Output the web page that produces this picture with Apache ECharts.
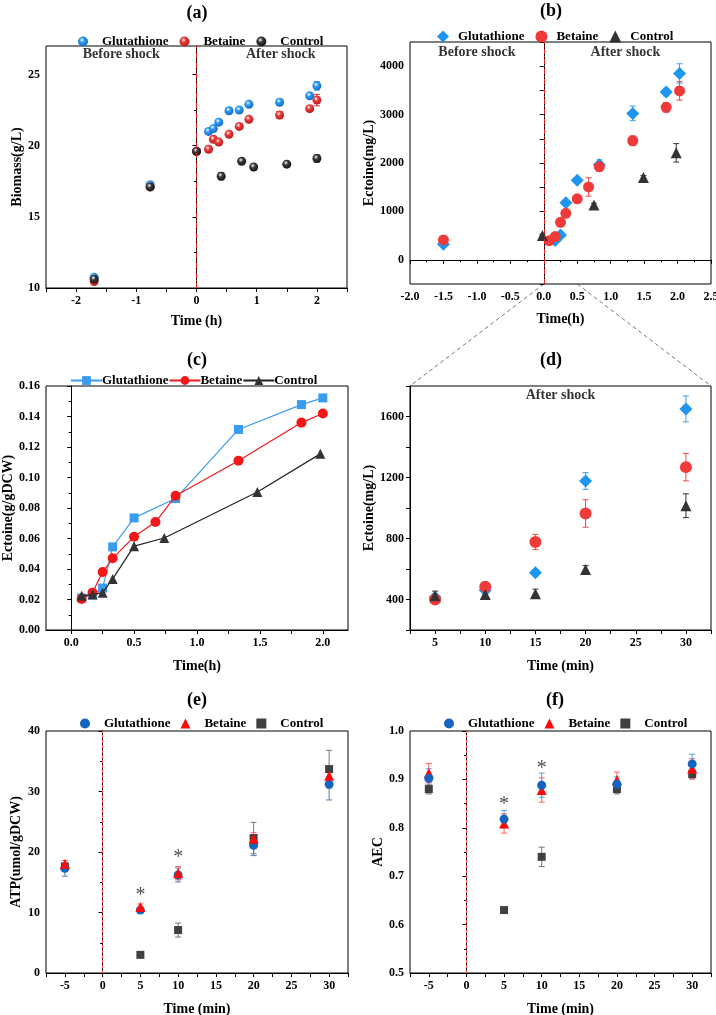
<!DOCTYPE html>
<html>
<head>
<meta charset="utf-8">
<script src="https://cdn.jsdelivr.net/npm/echarts@6/dist/echarts.min.js"></script>
<style>
  html, body { margin: 0; padding: 0; background: #fff; }
  #chart { width: 716px; height: 1015px; }
</style>
</head>
<body>
<div id="chart"></div>
<script>
// (a) biomass, g/L
const aTime = [-1.7, -0.77, 0, 0.2, 0.28, 0.37, 0.54, 0.71, 0.87, 1.38, 1.88, 2.0];
const aGlut = [10.75, 17.25, 19.6, 21.0, 21.2, 21.65, 22.45, 22.5, 22.9, 23.05, 23.5, 24.2];
const aGlutErr = [0.15, 0.15, 0.1, 0.1, 0.15, 0.15, 0.15, 0.15, 0.12, 0.2, 0.2, 0.3];
const aBeta = [10.45, 17.1, 19.6, 19.75, 20.45, 20.25, 20.8, 21.35, 21.85, 22.15, 22.6, 23.2];
const aBetaErr = [0.1, 0.1, 0.1, 0.2, 0.15, 0.15, 0.15, 0.2, 0.15, 0.25, 0.2, 0.4];
const aTimeC = [-1.7, -0.77, 0, 0.41, 0.75, 0.95, 1.5, 2.0];
const aCtrl = [10.62, 17.1, 19.6, 17.85, 18.9, 18.5, 18.7, 19.1];
const aCtrlErr = [0.1, 0.15, 0.1, 0.25, 0.1, 0.1, 0.1, 0.25];
const aXLabels = [-2, -1, 0, 1, 2];
const aXTicks = [-2.5, -2, -1.5, -1, -0.5, 0, 0.5, 1, 1.5, 2, 2.5];
const aYLabels = [10, 15, 20, 25];

// (b) ectoine, mg/L
const bTimeG = [-1.5, 0.17, 0.25, 0.33, 0.5, 0.83, 1.33, 1.83, 2.03];
const bGlut = [320, 400, 510, 1180, 1645, 1965, 3025, 3465, 3850];
const bGlutErr = [30, 30, 40, 50, 50, 100, 150, 80, 200];
const bTimeB = [-1.5, 0.08, 0.17, 0.25, 0.33, 0.5, 0.67, 0.83, 1.33, 1.83, 2.03];
const bBeta = [410, 395, 480, 775, 960, 1260, 1505, 1925, 2460, 3150, 3490];
const bBetaErr = [30, 40, 40, 40, 50, 80, 190, 100, 100, 100, 190];
const bTimeC = [-0.02, 0.75, 1.49, 1.98];
const bCtrl = [500, 1130, 1700, 2210];
const bCtrlErr = [30, 40, 40, 190];
const bYLabels = [0, 1000, 2000, 3000, 4000];
const bYTicks = [-500, 0, 500, 1000, 1500, 2000, 2500, 3000, 3500, 4000, 4500];

// (c) ectoine, g/gDCW
const cTimeG = [0.083, 0.17, 0.25, 0.33, 0.5, 0.83, 1.33, 1.83, 2.0];
const cGlut = [0.021, 0.023, 0.0275, 0.0545, 0.0735, 0.0862, 0.1315, 0.1478, 0.1522];
const cTimeB = [0.083, 0.17, 0.25, 0.33, 0.5, 0.67, 0.83, 1.33, 1.83, 2.0];
const cBeta = [0.0203, 0.0245, 0.038, 0.047, 0.0612, 0.0708, 0.088, 0.111, 0.136, 0.142];
const cTimeC = [0.083, 0.17, 0.25, 0.33, 0.5, 0.74, 1.48, 1.98];
const cCtrl = [0.0225, 0.0232, 0.0245, 0.0335, 0.055, 0.0603, 0.0905, 0.1155];
const cXLabels = [0, 0.5, 1, 1.5, 2];
const cXTicks = [0, 0.25, 0.5, 0.75, 1, 1.25, 1.5, 1.75, 2];

// (d) ectoine after shock, mg/L
const dTime = [5, 10, 15, 20, 30];
const dGlut = [415, 460, 575, 1177, 1650];
const dGlutErr = [20, 25, 20, 55, 85];
const dBeta = [400, 483, 777, 964, 1268];
const dBetaErr = [20, 30, 50, 90, 90];
const dCtrl = [425, 432, 438, 597, 1015];
const dCtrlErr = [30, 15, 30, 25, 78];
const dXLabels = [5, 10, 15, 20, 25, 30];
const dXTicks = [2.5, 5, 7.5, 10, 12.5, 15, 17.5, 20, 22.5, 25, 27.5, 30, 32.5];
const dYLabels = [400, 800, 1200, 1600];
const dYTicks = [200, 400, 600, 800, 1000, 1200, 1400, 1600, 1800];

// (e) ATP, umol/gDCW
const eTime = [-5, 5, 10, 20, 30];
const eGlut = [17.3, 10.4, 16.2, 21.1, 31.2];
const eGlutErr = [1.3, 0.5, 1.15, 1.7, 2.6];
const eBeta = [18.0, 10.9, 16.5, 22.2, 32.6];
const eBetaErr = [0.6, 0.5, 1.1, 1.0, 1.5];
const eCtrl = [17.6, 3.0, 7.1, 22.3, 33.7];
const eCtrlErr = [0.5, 0.3, 1.15, 2.6, 3.1];
const eStars = [[5, 13.6], [10, 19.8]];

// (f) AEC
const fTime = [-5, 5, 10, 20, 30];
const fGlut = [0.902, 0.818, 0.888, 0.89, 0.932];
const fGlutErr = [0.02, 0.018, 0.025, 0.015, 0.02];
const fBeta = [0.913, 0.809, 0.878, 0.899, 0.922];
const fBetaErr = [0.02, 0.02, 0.025, 0.016, 0.021];
const fCtrl = [0.88, 0.63, 0.74, 0.88, 0.911];
const fCtrlErr = [0.01, 0.006, 0.02, 0.01, 0.01];
const fStars = [[5, 0.858], [10, 0.932]];
const efXLabels = [-5, 0, 5, 10, 15, 20, 25, 30];
const efXTicks = [-7.5, -5, -2.5, 0, 2.5, 5, 7.5, 10, 12.5, 15, 17.5, 20, 22.5, 25, 27.5, 30, 32.5];

const FONT = '"Liberation Serif", "Times New Roman", serif';

function pts(xs, ys) {
  return xs.map((x, i) => [x, ys[i]]);
}

function sphere(base, dark) {
  return new echarts.graphic.RadialGradient(0.4, 0.35, 0.7, [
    { offset: 0, color: '#ffffff' },
    { offset: 0.35, color: base },
    { offset: 1, color: dark }
  ]);
}

// vertical error bar with caps
function errBars(g, xs, ys, es, color) {
  return {
    type: 'custom',
    name: 'err',
    xAxisIndex: g,
    yAxisIndex: g,
    silent: true,
    z: 1,
    encode: { x: 0, y: 1 },
    data: xs.map((x, i) => [x, ys[i], es[i]]),
    renderItem(params, api) {
      const x = api.value(0), y = api.value(1), e = api.value(2);
      const top = api.coord([x, y + e]);
      const bot = api.coord([x, y - e]);
      const style = { stroke: color, lineWidth: 1 };
      return {
        type: 'group',
        children: [
          { type: 'line', shape: { x1: top[0], y1: top[1], x2: bot[0], y2: bot[1] }, style },
          { type: 'line', shape: { x1: top[0] - 3, y1: top[1], x2: top[0] + 3, y2: top[1] }, style },
          { type: 'line', shape: { x1: bot[0] - 3, y1: bot[1], x2: bot[0] + 3, y2: bot[1] }, style }
        ]
      };
    }
  };
}

function dots(name, g, xs, ys, symbol, size, color, extra) {
  return Object.assign({
    type: 'scatter',
    name: name,
    xAxisIndex: g,
    yAxisIndex: g,
    data: pts(xs, ys),
    symbol: symbol,
    symbolSize: size,
    itemStyle: { color: color, opacity: 1 },
    z: 3
  }, extra || {});
}

// text placed in data coordinates
function note(g, x, y, text, fontSize, weight, color, offset) {
  return {
    type: 'scatter',
    xAxisIndex: g,
    yAxisIndex: g,
    silent: true,
    symbolSize: 1,
    itemStyle: { color: 'transparent' },
    data: [[x, y]],
    z: 5,
    label: {
      show: true,
      position: 'inside',
      offset: offset || [0, 0],
      formatter: text,
      fontFamily: FONT,
      fontSize: fontSize,
      fontWeight: weight,
      color: color
    }
  };
}

function shockLine(type, color) {
  return {
    silent: true,
    symbol: 'none',
    label: { show: false },
    lineStyle: { color: color, width: 1, type: type },
    data: [{ xAxis: 0 }]
  };
}

const labelStyle = { fontFamily: FONT, fontWeight: 'bold', fontSize: 12, color: '#000' };
const nameStyle = { fontFamily: FONT, fontWeight: 'bold', fontSize: 14, color: '#000' };
const lineAx = { show: true, lineStyle: { color: '#000', width: 1 } };

function xAx(g, min, max, labels, ticks, name, gap, fmt) {
  return {
    type: 'value', gridIndex: g, min: min, max: max,
    name: name, nameLocation: 'middle', nameGap: gap, nameTextStyle: nameStyle,
    axisLine: lineAx,
    axisTick: { show: true, length: 4, lineStyle: { color: '#000' }, customValues: ticks },
    axisLabel: Object.assign({ margin: 7, customValues: labels, formatter: fmt }, labelStyle),
    splitLine: { show: false }
  };
}

function yAx(g, opts, name, gap) {
  return Object.assign({
    type: 'value', gridIndex: g,
    name: name, nameLocation: 'middle', nameGap: gap, nameTextStyle: nameStyle,
    axisLine: lineAx,
    axisTick: { show: true, length: 4, lineStyle: { color: '#000' } },
    minorTick: { show: true, splitNumber: 2, length: 2.5, lineStyle: { color: '#000' } },
    splitLine: { show: false }
  }, opts, {
    axisLabel: Object.assign({ margin: 6 }, labelStyle, opts.axisLabel || {})
  });
}

function legendFor(names, left, top, extra) {
  return Object.assign({
    data: names,
    left: left,
    top: top,
    orient: 'horizontal',
    selectedMode: false,
    itemWidth: 10,
    itemHeight: 10,
    itemGap: 11,
    formatter: n => n.split('|')[0],
    textStyle: { fontFamily: FONT, fontWeight: 'bold', fontSize: 13, color: '#000', padding: [0, 0, 0, 9] }
  }, extra || {});
}

const fix1 = v => v.toFixed(1);
const fix2 = v => v.toFixed(2);
const plain = v => String(v);

const blueA = sphere('#2a9af2', '#1466c0');
const redA = sphere('#ee3b3b', '#b01818');
const darkA = sphere('#3a3a3a', '#111111');

const grids = [
  { left: 46, top: 46, width: 301, height: 242 },
  { left: 410, top: 42, width: 301, height: 242 },
  { left: 46, top: 386, width: 302, height: 244 },
  { left: 410, top: 386, width: 301, height: 244 },
  { left: 46, top: 731, width: 302, height: 242 },
  { left: 410, top: 731, width: 301, height: 242 }
].map(g => Object.assign({ show: true, borderColor: '#000', borderWidth: 1, backgroundColor: 'transparent', outerBoundsMode: 'none' }, g));

const titleFont = 'bold 18px ' + FONT;

const option = {
  animation: false,
  backgroundColor: '#fff',
  grid: grids,
  xAxis: [
    xAx(0, -2.5, 2.5, aXLabels, aXTicks, 'Time (h)', 26, plain),
    { type: 'value', gridIndex: 1, min: -2, max: 2.5, interval: 0.5,
      name: 'Time(h)', nameLocation: 'middle', nameGap: 28, nameTextStyle: nameStyle,
      axisLine: lineAx,
      axisTick: { show: true, length: 4, lineStyle: { color: '#000' } },
      minorTick: { show: true, splitNumber: 2, length: 2.5, lineStyle: { color: '#000' } },
      axisLabel: Object.assign({ margin: 7, formatter: fix1 }, labelStyle),
      splitLine: { show: false } },
    xAx(2, -0.2, 2.2, cXLabels, cXTicks, 'Time(h)', 29, fix1),
    xAx(3, 2.5, 32.5, dXLabels, dXTicks, 'Time (min)', 29, plain),
    xAx(4, -7.5, 32.5, efXLabels, efXTicks, 'Time (min)', 29, plain),
    xAx(5, -7.5, 32.5, efXLabels, efXTicks, 'Time (min)', 29, plain)
  ],
  yAxis: [
    yAx(0, { min: 10, max: 27, interval: 5,
      axisTick: { show: true, length: 4, lineStyle: { color: '#000' }, customValues: aYLabels },
      axisLabel: { customValues: aYLabels, formatter: plain } }, 'Biomass(g/L)', 21),
    yAx(1, { min: -500, max: 4500, minorTick: { show: false },
      axisTick: { show: true, length: 4, lineStyle: { color: '#000' }, customValues: bYTicks },
      axisLabel: { customValues: bYLabels, formatter: plain } }, 'Ectoine(mg/L)', 34),
    yAx(2, { min: 0, max: 0.16, interval: 0.02, axisLabel: { formatter: fix2 } }, 'Ectoine(g/gDCW)', 16),
    yAx(3, { min: 200, max: 1800, minorTick: { show: false },
      axisTick: { show: true, length: 4, lineStyle: { color: '#000' }, customValues: dYTicks },
      axisLabel: { customValues: dYLabels, formatter: plain } }, 'Ectoine(mg/L)', 28),
    yAx(4, { min: 0, max: 40, interval: 10, axisLabel: { formatter: plain } }, 'ATP(umol/gDCW)', 23),
    yAx(5, { min: 0.5, max: 1.0, interval: 0.1, axisLabel: { formatter: fix1 } }, 'AEC', 20)
  ],
  legend: [
    legendFor(['Glutathione|a', 'Betaine|a', 'Control|a'], 73, 30),
    legendFor(['Glutathione|b', 'Betaine|b', 'Control|b'], 432, 25, { itemWidth: 12, itemHeight: 12,
      textStyle: { fontFamily: FONT, fontWeight: 'bold', fontSize: 13, color: '#000', padding: [0, 0, 0, 4] } }),
    legendFor(['Glutathione|c', 'Betaine|c', 'Control|c'], 65, 369, { itemWidth: 31, itemHeight: 11, itemGap: 0,
      textStyle: { fontFamily: FONT, fontWeight: 'bold', fontSize: 13, color: '#000', padding: [0, 0, 0, -5] } }),
    legendFor(['Glutathione|e', 'Betaine|e', 'Control|e'], 75, 712, { itemGap: 10 }),
    legendFor(['Glutathione|f', 'Betaine|f', 'Control|f'], 439, 712, { itemGap: 10 })
  ],
  graphic: [
    { type: 'text', x: 197, y: 13, style: { text: '(a)', align: 'center', verticalAlign: 'middle', font: titleFont, fill: '#000' } },
    { type: 'text', x: 551, y: 11, style: { text: '(b)', align: 'center', verticalAlign: 'middle', font: titleFont, fill: '#000' } },
    { type: 'text', x: 197, y: 360, style: { text: '(c)', align: 'center', verticalAlign: 'middle', font: titleFont, fill: '#000' } },
    { type: 'text', x: 551, y: 360, style: { text: '(d)', align: 'center', verticalAlign: 'middle', font: titleFont, fill: '#000' } },
    { type: 'text', x: 197, y: 700, style: { text: '(e)', align: 'center', verticalAlign: 'middle', font: titleFont, fill: '#000' } },
    { type: 'text', x: 555, y: 700, style: { text: '(f)', align: 'center', verticalAlign: 'middle', font: titleFont, fill: '#000' } }
  ],
  series: [
    // (a)
    errBars(0, aTime, aGlut, aGlutErr, '#2a8ae0'),
    errBars(0, aTime, aBeta, aBetaErr, '#e03030'),
    errBars(0, aTimeC, aCtrl, aCtrlErr, '#333'),
    dots('Glutathione|a', 0, aTime, aGlut, 'circle', 9, blueA, { markLine: shockLine([5, 2, 1, 2], '#e82020') }),
    dots('Betaine|a', 0, aTime, aBeta, 'circle', 9, redA),
    dots('Control|a', 0, aTimeC, aCtrl, 'circle', 9, darkA),
    note(0, -1.25, 26.4, 'Before shock', 14, 'bold', '#000'),
    note(0, 1.4, 26.4, 'After shock', 14, 'bold', '#000'),

    // (b)
    errBars(1, bTimeG, bGlut, bGlutErr, '#3aa0f0'),
    errBars(1, bTimeB, bBeta, bBetaErr, '#f04848'),
    errBars(1, bTimeC, bCtrl, bCtrlErr, '#333'),
    dots('Glutathione|b', 1, bTimeG, bGlut, 'diamond', 13, '#1e96f0', { markLine: shockLine([5, 2, 1, 2], '#e82020') }),
    dots('Betaine|b', 1, bTimeB, bBeta, 'circle', 11, '#f03a3a'),
    dots('Control|b', 1, bTimeC, bCtrl, 'triangle', 11, '#333333'),
    note(1, -1.0, 4290, 'Before shock', 14, 'bold', '#000'),
    note(1, 1.22, 4290, 'After shock', 14, 'bold', '#000'),

    // (c)
    { type: 'line', name: 'Glutathione|c', xAxisIndex: 2, yAxisIndex: 2, data: pts(cTimeG, cGlut),
      symbol: 'rect', symbolSize: 9, lineStyle: { color: '#3a9cf0', width: 1.2 }, itemStyle: { color: '#3a9cf0' }, z: 3 },
    { type: 'line', name: 'Betaine|c', xAxisIndex: 2, yAxisIndex: 2, data: pts(cTimeB, cBeta),
      symbol: 'circle', symbolSize: 10, lineStyle: { color: '#f01818', width: 1.2 }, itemStyle: { color: '#f01818' }, z: 4 },
    { type: 'line', name: 'Control|c', xAxisIndex: 2, yAxisIndex: 2, data: pts(cTimeC, cCtrl),
      symbol: 'triangle', symbolSize: 10, lineStyle: { color: '#222', width: 1.2 }, itemStyle: { color: '#333' }, z: 5 },

    // (d)
    errBars(3, dTime, dGlut, dGlutErr, '#3aa0f0'),
    errBars(3, dTime, dBeta, dBetaErr, '#f04848'),
    errBars(3, dTime, dCtrl, dCtrlErr, '#333'),
    dots('Glutathione|d', 3, dTime, dGlut, 'diamond', 13, '#1e96f0'),
    dots('Betaine|d', 3, dTime, dBeta, 'circle', 12, '#f03a3a'),
    dots('Control|d', 3, dTime, dCtrl, 'triangle', 11, '#333333'),
    note(3, 17.5, 1739, 'After shock', 14, 'bold', '#000'),

    // (e)
    errBars(4, eTime, eCtrl, eCtrlErr, '#777'),
    errBars(4, eTime, eGlut, eGlutErr, '#4a7fc0'),
    errBars(4, eTime, eBeta, eBetaErr, '#ff6060'),
    dots('Control|e', 4, eTime, eCtrl, 'rect', 8, '#404040'),
    dots('Glutathione|e', 4, eTime, eGlut, 'circle', 9, '#1565c0', { markLine: shockLine([3, 2], '#ff4a4a') }),
    dots('Betaine|e', 4, eTime, eBeta, 'triangle', 10, '#ff0a0a'),
    note(4, eStars[0][0], eStars[0][1], '*', 20, 'normal', '#222', [0, 5]),
    note(4, eStars[1][0], eStars[1][1], '*', 20, 'normal', '#222', [0, 5]),

    // (f)
    errBars(5, fTime, fCtrl, fCtrlErr, '#777'),
    errBars(5, fTime, fBeta, fBetaErr, '#ff6060'),
    errBars(5, fTime, fGlut, fGlutErr, '#5aa0e0'),
    dots('Control|f', 5, fTime, fCtrl, 'rect', 8, '#404040'),
    dots('Betaine|f', 5, fTime, fBeta, 'triangle', 10, '#ff0a0a'),
    dots('Glutathione|f', 5, fTime, fGlut, 'circle', 9, '#1565c0', { markLine: shockLine([3, 2], '#ff4a4a') }),
    note(5, fStars[0][0], fStars[0][1], '*', 20, 'normal', '#222', [0, 5]),
    note(5, fStars[1][0], fStars[1][1], '*', 20, 'normal', '#222', [0, 5])
  ]
};

const chart = echarts.init(document.getElementById('chart'), null, { renderer: 'canvas' });
chart.setOption(option);

// dashed guide lines from the 0-0.5 h span of (b) to the corners of (d)
const p1 = chart.convertToPixel({ gridIndex: 1 }, [0, -500]);
const p2 = chart.convertToPixel({ gridIndex: 3 }, [2.5, 1800]);
const p3 = chart.convertToPixel({ gridIndex: 1 }, [0.5, -500]);
const p4 = chart.convertToPixel({ gridIndex: 3 }, [32.5, 1800]);
const guide = { stroke: '#555', lineWidth: 0.8, lineDash: [4, 3] };
chart.setOption({
  graphic: option.graphic.concat([
    { type: 'line', silent: true, shape: { x1: p1[0], y1: p1[1], x2: p2[0], y2: p2[1] }, style: guide },
    { type: 'line', silent: true, shape: { x1: p3[0], y1: p3[1], x2: p4[0], y2: p4[1] }, style: guide }
  ])
});
</script>
</body>
</html>
